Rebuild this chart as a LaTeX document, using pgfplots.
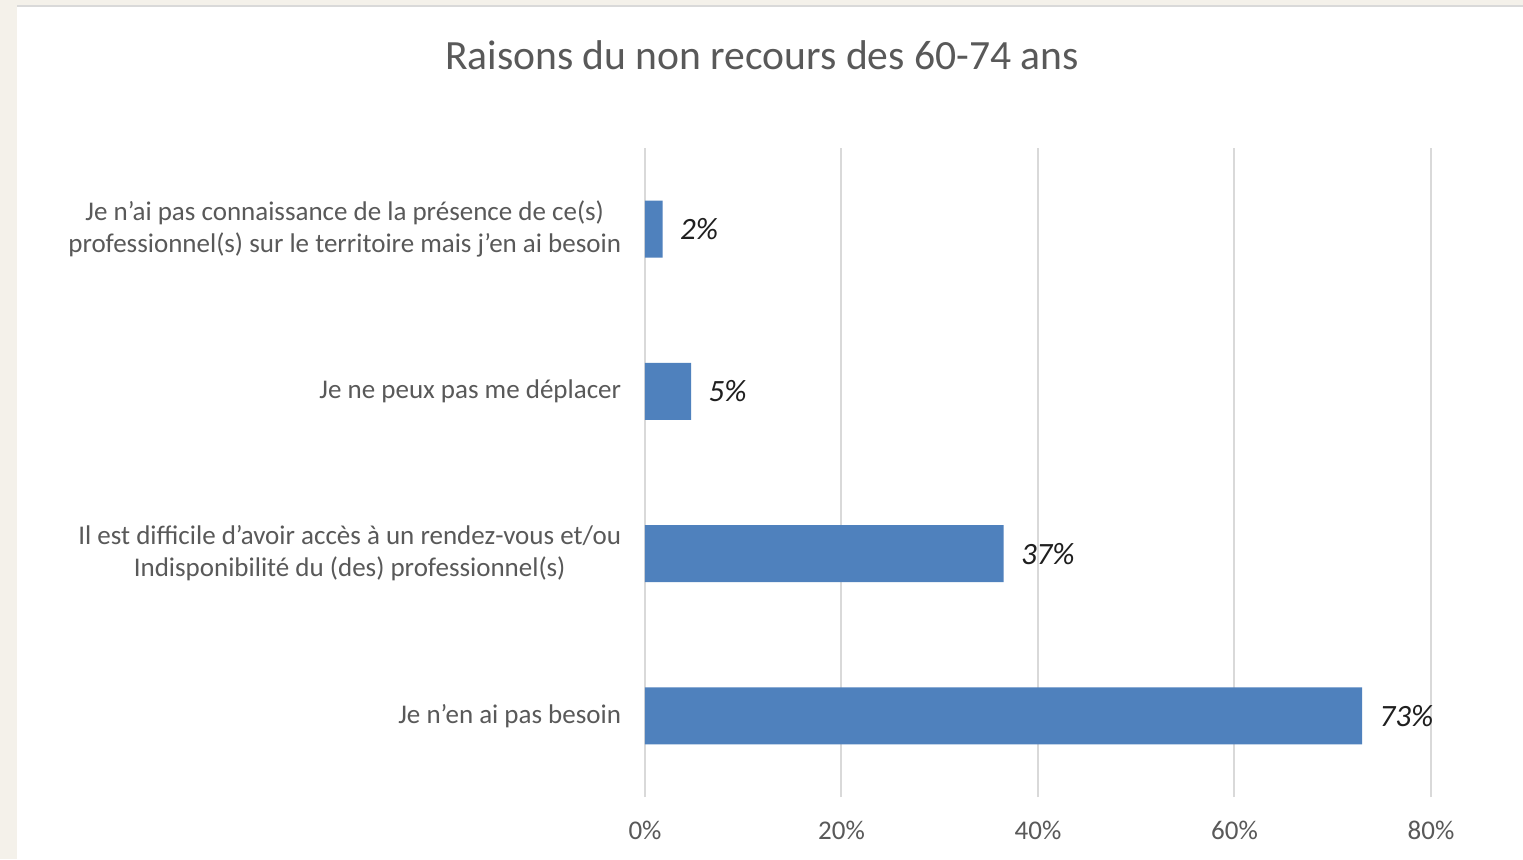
\documentclass[border=0pt]{standalone}
\usepackage{pgfplots}
\pgfplotsset{compat=1.18}
\usepackage{fontspec}
\setmainfont{Carlito}
\definecolor{bg}{HTML}{F4F1EA}
\definecolor{barc}{HTML}{4F81BD}
\definecolor{gridc}{HTML}{D9D9D9}
\definecolor{txt}{HTML}{595959}
\definecolor{lab}{HTML}{1F1F1F}
\begin{document}
\begin{tikzpicture}
\fill[bg] (0,0) rectangle (761.5pt,429.5pt);
\fill[white] (8.5pt,0) rectangle (761.5pt,426pt);
\fill[gridc] (8.5pt,426pt) rectangle (761.5pt,427pt);
\node[text=txt, font=\fontsize{20.8}{24}\selectfont] at (381pt,402pt) {Raisons du non recours des 60-74 ans};
\begin{axis}[
 at={(322.5pt,31pt)}, anchor=south west,
 width=393pt, height=324.5pt, scale only axis,
 xbar, bar width=28.5pt,
 xmin=0, xmax=80, ymin=-0.5, ymax=3.5,
 xtick={0,20,40,60,80},
 xticklabel={\pgfmathprintnumber{\tick}\%},
 /pgf/number format/assume math mode=true,
 ytick={0,1,2,3},
 yticklabels={{Je n’en ai pas besoin},
   {Il est difficile d’avoir accès à un rendez-vous et/ou\\Indisponibilité du (des) professionnel(s)},
   {Je ne peux pas me déplacer},
   {Je n’ai pas connaissance de la présence de ce(s)\\professionnel(s) sur le territoire mais j’en ai besoin}},
 yticklabel style={align=center, text=txt, font=\fontsize{13.5}{16}\selectfont, inner sep=0pt, xshift=-7.5pt},
 xticklabel style={text=txt, font=\fontsize{13.5}{16}\selectfont, yshift=-8.5pt},
 axis line style={draw=none},
 major tick style={draw=none},
 xmajorgrids, grid style={gridc, line width=1pt},
 point meta=explicit symbolic,
 nodes near coords,
 every node near coord/.style={anchor=west, inner sep=0pt, xshift=8.5pt, text=lab, font=\fontsize{15.5}{18}\selectfont\itshape},
]
\addplot[fill=barc, draw=none] coordinates {
 (73,0) [73\%]
 (36.5,1) [37\%]
 (4.7,2) [5\%]
 (1.8,3) [2\%]
};
\end{axis}
\pgfresetboundingbox
\path (0,0) rectangle (761.5pt,429.5pt);
\end{tikzpicture}
\end{document}
